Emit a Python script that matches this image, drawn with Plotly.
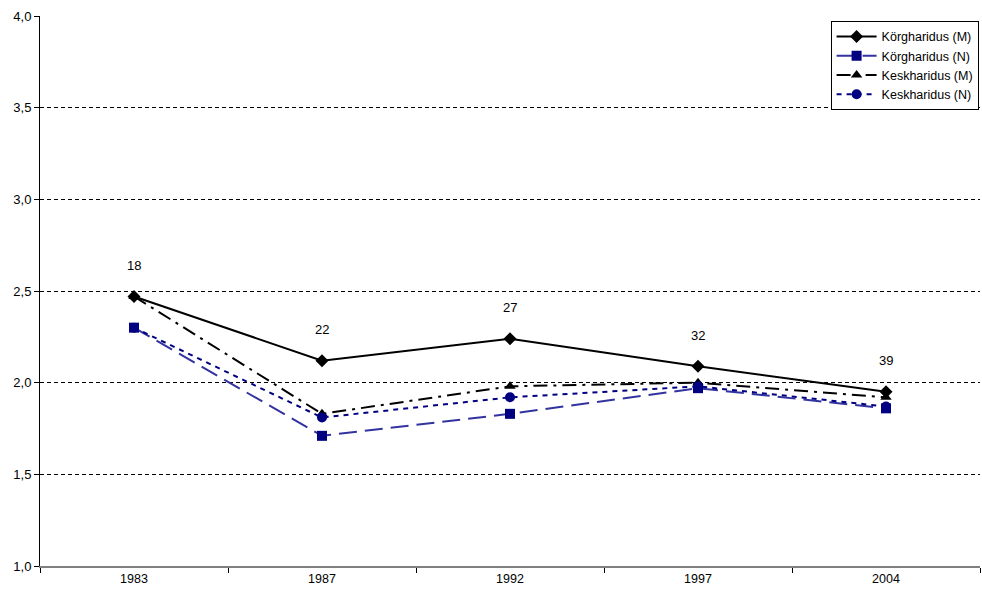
import plotly.graph_objects as go

years = ["1983", "1987", "1992", "1997", "2004"]
korg_m = [2.47, 2.12, 2.24, 2.09, 1.95]
korg_n = [2.30, 1.71, 1.83, 1.97, 1.86]
kesk_m = [2.47, 1.83, 1.98, 2.00, 1.92]
kesk_n = [2.30, 1.81, 1.92, 1.98, 1.87]
labels = ["18", "22", "27", "32", "39"]

fig = go.Figure()
fig.add_trace(go.Scatter(x=years, y=korg_m, name="Körgharidus (M)", mode="lines+markers",
                         line=dict(color="black", width=2, dash="solid"),
                         marker=dict(symbol="diamond", size=10, color="black")))
fig.add_trace(go.Scatter(x=years, y=korg_n, name="Körgharidus (N)", mode="lines+markers",
                         line=dict(color="#3333a0", width=2, dash="18px,8px"),
                         marker=dict(symbol="square", size=10, color="#000080")))
fig.add_trace(go.Scatter(x=years, y=kesk_m, name="Keskharidus (M)", mode="lines+markers",
                         line=dict(color="black", width=2, dash="14px,6px,3px,6px"),
                         marker=dict(symbol="triangle-up", size=10, color="black")))
fig.add_trace(go.Scatter(x=years, y=kesk_n, name="Keskharidus (N)", mode="lines+markers",
                         line=dict(color="#000080", width=2, dash="5px,5px"),
                         marker=dict(symbol="circle", size=10, color="#000080")))

for i, (v, t) in enumerate(zip(korg_m, labels)):
    fig.add_annotation(x=i, y=v, xref="x", yref="y", text=t, showarrow=False, yshift=31,
                       font=dict(size=13, color="black"))

fig.update_layout(
    width=982, height=592,
    margin=dict(l=40, r=2, t=16, b=26, autoexpand=False),
    paper_bgcolor="white", plot_bgcolor="white",
    font=dict(family="Liberation Sans, Arial, sans-serif", size=12.5, color="black"),
    separators=", ",
    showlegend=True,
    legend=dict(x=0.9985, y=0.991, xanchor="right", yanchor="top",
                bordercolor="black", borderwidth=1, bgcolor="white",
                font=dict(size=12.5), tracegroupgap=0, itemwidth=40),
)
fig.update_xaxes(type="category", showline=True, linecolor="#808080", linewidth=2,
                 ticks="outside", tickson="boundaries", ticklen=5, tickcolor="black",
                 showgrid=False, range=[-0.5, 4.5], automargin=False)
fig.update_yaxes(range=[1, 4], dtick=0.5, tickformat=".1f", showline=True,
                 linecolor="black", linewidth=1, ticks="outside", ticklen=5,
                 tickcolor="black", showgrid=True, gridcolor="black", gridwidth=1,
                 griddash="4px,3px", zeroline=False, automargin=False,
                 tickfont=dict(size=13))
fig.write_html("out.html", config={"displayModeBar": False},
               post_script="document.body.style.margin='0';document.body.style.overflow='hidden';")
